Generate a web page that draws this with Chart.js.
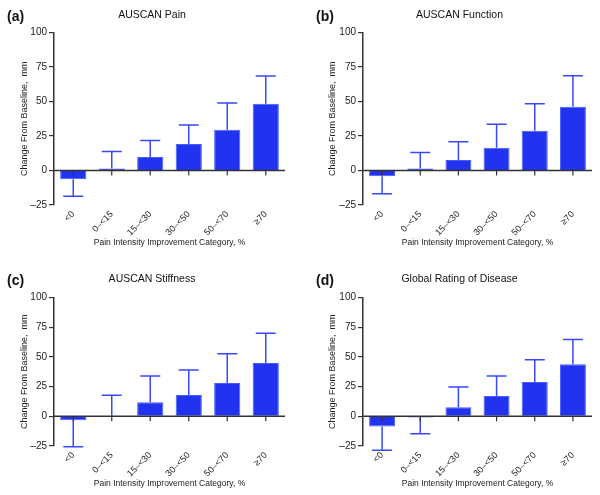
<!DOCTYPE html>
<html>
<head>
<meta charset="utf-8">
<script src="https://cdn.jsdelivr.net/npm/chart.js@4.4.1/dist/chart.umd.min.js"></script>
<style>
    body { margin: 0; background: #fff; }
    #wrap { position: relative; width: 600px; height: 495px; font-family: "Liberation Sans", Arial, sans-serif; }
    canvas { position: absolute; }
    .tag { position: absolute; font-weight: bold; font-size: 14px; color: #111; }
</style>
</head>
<body>
<div id="wrap">
    <canvas id="chartA" width="300" height="250" style="left:0;top:0"></canvas>
    <canvas id="chartB" width="300" height="250" style="left:300px;top:0"></canvas>
    <canvas id="chartC" width="300" height="245" style="left:0;top:250px"></canvas>
    <canvas id="chartD" width="300" height="245" style="left:300px;top:250px"></canvas>
    <div class="tag" style="left:7px;top:8px">(a)</div>
    <div class="tag" style="left:316px;top:8px">(b)</div>
    <div class="tag" style="left:7px;top:272px">(c)</div>
    <div class="tag" style="left:316px;top:272px">(d)</div>
</div>
<script>
const categories = ["<0", "0\u2013<15", "15\u2013<30", "30\u2013<50", "50\u2013<70", "\u226570"];

// mean change and error (SD) per category
const painMean = [-6.4, 1.5, 9.8, 19.3, 29.6, 48.4];
const painErr = [12.2, 12.2, 12, 13.7, 19.3, 20.1];

const functionMean = [-4.2, 1.5, 7.6, 16.6, 28.9, 46.2];
const functionErr = [12.7, 11.5, 13.2, 16.9, 19.5, 22.5];

const stiffnessMean = [-3.4, 0.5, 11.9, 18, 28, 45];
const stiffnessErr = [22.3, 17.3, 22, 21, 24.8, 25];

const globalMean = [-8.5, -1, 7.6, 17.2, 29, 43.8];
const globalErr = [20, 13.7, 17, 16.7, 18.7, 20.9];

const yTicks = [-25, 0, 25, 50, 75, 100];

const fontFamily = '"Liberation Sans", Arial, sans-serif';
const barColor = "#2233f0";
const errColor = "#3848ff";
const axisColor = "#333333";

// error bars, zero line and the little ticks on it
const errorBarPlugin = {
    id: "errorBars",
    afterDatasetsDraw(chart) {
        const ctx = chart.ctx;
        const yScale = chart.scales.y;
        const xScale = chart.scales.x;
        const meta = chart.getDatasetMeta(0);
        const means = chart.data.datasets[0].data;
        const errs = chart.data.datasets[0].errors;

        ctx.save();
        ctx.strokeStyle = errColor;
        ctx.lineWidth = 1.5;
        meta.data.forEach((bar, i) => {
            const m = means[i];
            const dir = m < 0 ? -1 : 1;
            const y0 = yScale.getPixelForValue(m);
            const y1 = yScale.getPixelForValue(m + dir * errs[i]);
            const half = 10;
            ctx.beginPath();
            ctx.moveTo(bar.x, y0);
            ctx.lineTo(bar.x, y1);
            ctx.moveTo(bar.x - half, y1);
            ctx.lineTo(bar.x + half, y1);
            ctx.stroke();
        });

        const zy = yScale.getPixelForValue(0);
        ctx.strokeStyle = axisColor;
        ctx.lineWidth = 1.5;
        ctx.beginPath();
        ctx.moveTo(chart.chartArea.left, zy);
        ctx.lineTo(chart.chartArea.right, zy);
        ctx.stroke();

        ctx.lineWidth = 1.2;
        categories.forEach((c, i) => {
            const x = xScale.getPixelForValue(i);
            ctx.beginPath();
            ctx.moveTo(x, zy);
            ctx.lineTo(x, zy + 5);
            ctx.stroke();
        });
        ctx.restore();
    }
};

function makeChart(id, title, means, errs, opts) {
    return new Chart(document.getElementById(id), {
        type: "bar",
        plugins: [errorBarPlugin],
        data: {
            labels: categories,
            datasets: [{
                data: means,
                errors: errs,
                backgroundColor: barColor,
                borderColor: "#4a5cff",
                borderWidth: 1,
                categoryPercentage: 1,
                barPercentage: 0.68,
            }],
        },
        options: {
            responsive: false,
            animation: false,
            layout: {
                padding: { left: opts.left, right: opts.right, top: 0, bottom: opts.bottom },
            },
            plugins: {
                legend: { display: false },
                tooltip: { enabled: false },
                title: {
                    display: true,
                    text: title,
                    color: "#111",
                    font: { family: fontFamily, size: 10.5, weight: "normal" },
                    padding: { top: opts.titleTop, bottom: opts.titleBottom },
                },
            },
            scales: {
                x: {
                    afterFit: (scale) => { scale.height = 43; },
                    border: { display: false },
                    grid: { display: false, drawTicks: false },
                    ticks: {
                        autoSkip: false,
                        minRotation: 45,
                        maxRotation: 45,
                        padding: 4,
                        color: "#222",
                        font: { family: fontFamily, size: 9 },
                    },
                    title: {
                        display: true,
                        text: "Pain Intensity Improvement Category, %",
                        color: "#222",
                        font: { family: fontFamily, size: 8.5 },
                        padding: { top: 0, bottom: 0 },
                    },
                },
                y: {
                    min: -25,
                    max: 100,
                    afterFit: (scale) => { scale.width = opts.yWidth; },
                    afterBuildTicks: (scale) => {
                        scale.ticks = yTicks.map(v => ({ value: v }));
                    },
                    border: { color: axisColor, width: 1.5 },
                    grid: {
                        display: true,
                        drawOnChartArea: false,
                        drawTicks: true,
                        tickLength: 5,
                        color: axisColor,
                        lineWidth: 1.2,
                    },
                    ticks: {
                        padding: 2,
                        color: "#222",
                        font: { family: fontFamily, size: 10 },
                        callback: (v) => v < 0 ? "\u2013" + Math.abs(v) : String(v),
                    },
                    title: {
                        display: true,
                        text: "Change From Baseline,  mm",
                        color: "#222",
                        font: { family: fontFamily, size: 9 },
                        padding: { top: 0, bottom: 0 },
                    },
                },
            },
        },
    });
}

const topRow = { left: 19, right: 15, bottom: 2, titleTop: 9, titleBottom: 11, yWidth: 35 };
const topRowB = { left: 27, right: 8, bottom: 2, titleTop: 9, titleBottom: 11, yWidth: 36 };
const botRow = { left: 19, right: 15, bottom: 6, titleTop: 23, titleBottom: 12, yWidth: 35 };
const botRowB = { left: 27, right: 8, bottom: 6, titleTop: 23, titleBottom: 12, yWidth: 36 };

makeChart("chartA", "AUSCAN Pain", painMean, painErr, topRow);
makeChart("chartB", "AUSCAN Function", functionMean, functionErr, topRowB);
makeChart("chartC", "AUSCAN Stiffness", stiffnessMean, stiffnessErr, botRow);
makeChart("chartD", "Global Rating of Disease", globalMean, globalErr, botRowB);
</script>
</body>
</html>
